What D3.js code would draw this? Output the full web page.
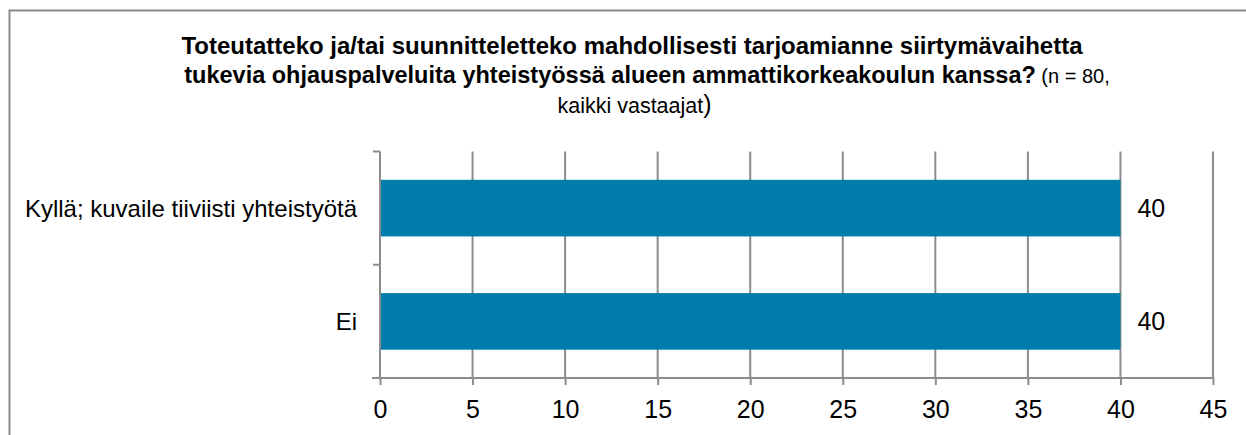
<!DOCTYPE html>
<html><head><meta charset="utf-8">
<script src="https://cdn.jsdelivr.net/npm/d3@7/dist/d3.min.js"></script>
<style>body{margin:0;background:#fff}svg{display:block}</style>
</head><body>
<svg id="c" width="1246" height="435"></svg>
<script>
const categories = ["Kyllä; kuvaile tiiviisti yhteistyötä", "Ei"];
const values = [40, 40];
const xTicks = [0, 5, 10, 15, 20, 25, 30, 35, 40, 45];
const titleLines = [
  "Toteutatteko ja/tai suunnitteletteko mahdollisesti tarjoamianne siirtymävaihetta",
  "tukevia ohjauspalveluita yhteistyössä alueen ammattikorkeakoulun kanssa?"
];
const titleNote1 = " (n = 80,";
const titleNote2 = "kaikki vastaajat";

const svg = d3.select("#c");
const font = "Liberation Sans, Arial, sans-serif";
const grid = "#8c8c8c";

svg.append("rect").attr("x", 9.5).attr("y", 10.5).attr("width", 1260).attr("height", 450)
  .attr("fill", "none").attr("stroke", "#8a8a8a").attr("stroke-width", 2);

const x = d3.scaleLinear().domain([0, 45]).range([380, 1213]);
const y = d3.scaleBand().domain(categories).range([151.5, 378]).paddingInner(0.5).paddingOuter(0.25);

// gridlines
svg.append("g").selectAll("line").data(xTicks.slice(1)).join("line")
  .attr("x1", d => x(d)).attr("x2", d => x(d)).attr("y1", 151.5).attr("y2", 378)
  .attr("stroke", grid).attr("stroke-width", 2);

// bars
svg.append("g").selectAll("rect").data(values).join("rect")
  .attr("x", x(0) + 1).attr("y", (d, i) => y(categories[i]))
  .attr("width", d => x(d) - x(0) - 1).attr("height", y.bandwidth())
  .attr("fill", "#007dab");

// x axis
const xa = svg.append("g").attr("transform", "translate(0,378)")
  .call(d3.axisBottom(x).tickValues(xTicks).tickSize(7).tickSizeOuter(0).tickPadding(15));
xa.select(".domain").attr("stroke", grid).attr("stroke-width", 2).attr("d", "M372,0H1213");
xa.selectAll(".tick line").attr("stroke", grid).attr("stroke-width", 2);
xa.selectAll(".tick text").attr("font-family", font).attr("font-size", 25).attr("fill", "#000");

// y axis line and ticks at band boundaries
const yEdges = [151.5, (151.5 + 378) / 2];
svg.append("line").attr("x1", 380).attr("x2", 380).attr("y1", 151.5).attr("y2", 378)
  .attr("stroke", grid).attr("stroke-width", 2);
svg.append("g").selectAll("line").data(yEdges).join("line")
  .attr("x1", 373).attr("x2", 380).attr("y1", d => d).attr("y2", d => d)
  .attr("stroke", grid).attr("stroke-width", 2);

// category labels
svg.append("g").selectAll("text").data(categories).join("text")
  .attr("x", 357).attr("y", d => y(d) + y.bandwidth() / 2).attr("dy", "0.35em")
  .attr("text-anchor", "end").attr("font-family", font).attr("font-size", 24)
  .text(d => d);

// value labels
svg.append("g").selectAll("text").data(values).join("text")
  .attr("x", d => x(d) + 17).attr("y", (d, i) => y(categories[i]) + y.bandwidth() / 2).attr("dy", "0.35em")
  .attr("font-family", font).attr("font-size", 25).text(d => d);

// title
const t = svg.append("g").attr("font-family", font).attr("text-anchor", "middle");
t.append("text").attr("x", 632).attr("y", 54).attr("font-size", 24).attr("font-weight", "bold").text(titleLines[0]);
const l2 = t.append("text").attr("x", 647).attr("y", 83).attr("font-size", 23.5);
l2.append("tspan").attr("font-weight", "bold").text(titleLines[1]);
l2.append("tspan").attr("font-size", 20).text(titleNote1);
const l3 = t.append("text").attr("x", 634.5).attr("y", 112.5).attr("font-size", 21.5);
l3.append("tspan").text(titleNote2);
l3.append("tspan").attr("font-size", 25).text(")");
</script>
</body></html>
